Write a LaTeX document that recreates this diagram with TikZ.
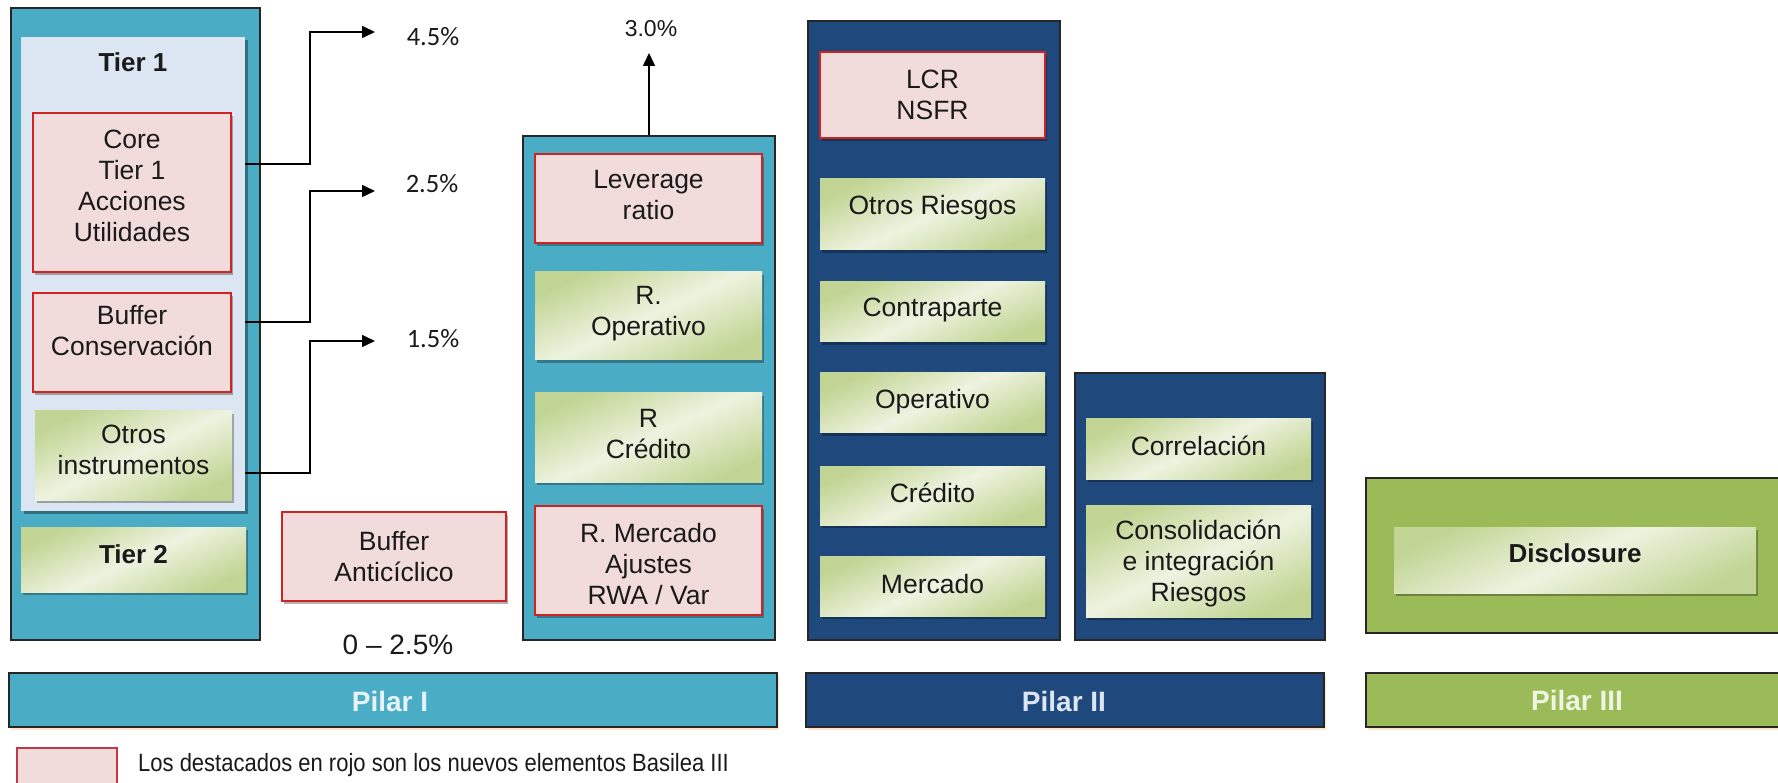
\documentclass[tikz,border=0pt]{standalone}
\usepackage{fontspec}
\setmainfont{Liberation Sans}
\newfontfamily\calib{Carlito}
\newfontfamily\narrowfont{Liberation Sans}[FakeStretch=0.88]
\usetikzlibrary{shadows,arrows.meta,calc}
\definecolor{tealA}{HTML}{4BACC6}
\definecolor{navyB}{HTML}{1F497D}
\definecolor{oliveC}{HTML}{9BBB59}
\definecolor{tierfill}{HTML}{DCE6F2}
\definecolor{redfill}{HTML}{F2DCDB}
\definecolor{redline}{HTML}{D02424}
\definecolor{legline}{HTML}{C0394B}
\definecolor{gEdge}{HTML}{C2D594}
\definecolor{gMid}{HTML}{EEF3E0}
\definecolor{txt}{HTML}{1A1A1A}
\definecolor{pilIt}{HTML}{E6F4FA}
\definecolor{pilIIt}{HTML}{DCE6F2}
\definecolor{pilIIIt}{HTML}{EEF5E0}
\begin{document}
\begin{tikzpicture}[x=1pt,y=-1pt,
  every node/.style={font=\fontsize{26.5}{31}\selectfont, text=txt, inner sep=0pt, align=center},
  column/.style={draw=black!85, line width=1.5pt, rectangle},
  tierbox/.style={fill=tierfill, drop shadow={shadow xshift=3pt, shadow yshift=-3pt, fill=black, opacity=0.35}},
  redbox/.style={fill=redfill, draw=redline, line width=2pt, drop shadow={shadow xshift=2pt, shadow yshift=-3pt, fill=black, opacity=0.3}},
  greenbox/.style={top color=gEdge, bottom color=gEdge, middle color=gMid, shading angle=25, drop shadow={shadow xshift=2pt, shadow yshift=-3pt, fill=black, opacity=0.3}},
  bar/.style={draw=black!85, line width=1.5pt, drop shadow={shadow xshift=2pt, shadow yshift=-3pt, fill=orange!40, opacity=0.5}},
  barlabel/.style={font=\fontsize{28}{32}\selectfont\bfseries},
  pct/.style={font=\fontsize{26.5}{30}\selectfont\calib},
  arr/.style={line width=1.6pt, -{Triangle[length=13pt,width=12pt]}},
]
\useasboundingbox[fill=white] (0,0) rectangle (1778,783);

% ---------- Pilar I: capital column ----------
\node[column, fill=tealA, minimum width=249, minimum height=632] (colL) at (135.5,324) {};
\node[tierbox, minimum width=224, minimum height=474] (tier1) at (133,274) {};
\node[font=\fontsize{26}{30}\selectfont\bfseries] (t1lab) at (133,62) {Tier 1};
\node[redbox, minimum width=198, minimum height=159] (core) at (132,192.5) {};
\node (coretxt) at (132,186) {Core\\Tier 1\\Acciones\\Utilidades};
\node[redbox, minimum width=198, minimum height=99] (bufcons) at (132,342.5) {};
\node (bufconstxt) at (132,331) {Buffer\\Conservación};
\node[greenbox, minimum width=197, minimum height=89] (otros) at (133.5,455.5) {};
\node (otrostxt) at (133.5,450) {Otros\\instrumentos};
\node[greenbox, minimum width=225, minimum height=65] (tier2) at (133.5,559.5) {};
\node[font=\fontsize{26}{30}\selectfont\bfseries] (tier2txt) at (133.5,554) {Tier 2};

% percentages and arrows
\node[pct] (p45) at (433,37) {4.5\%};
\node[pct] (p25) at (432,184) {2.5\%};
\node[pct] (p15) at (433,339) {1.5\%};
\coordinate (t45) at (375,32);
\coordinate (t25) at (375,191);
\coordinate (t15) at (375,341);
\draw[arr] (tier1.east |- core.north) ++(0,52) -- ++(65,0) |- (t45);
\draw[arr] (tier1.east |- bufcons.north) ++(0,30) -- ++(65,0) |- (t25);
\draw[arr] (tier1.east |- otros.north) ++(0,62) -- ++(65,0) |- (t15);

% buffer anticiclico
\node[redbox, minimum width=224, minimum height=89] (bufanti) at (394,556.5) {Buffer\\Anticíclico};
\node[font=\fontsize{28}{32}\selectfont] (range) at (398,645) {0 -- 2.5\%};

% ---------- Pilar I: risk column ----------
\node[column, fill=tealA, minimum width=252, minimum height=504] (levcol) at (649,388) {};
\node[redbox, minimum width=227, minimum height=89] (lev) at (648.5,198.5) {};
\node (levtxt) at (648.5,195) {Leverage\\ratio};
\node[greenbox, minimum width=227, minimum height=88] (rop) at (648.5,316) {};
\node (roptxt) at (648.5,314) {R.\\Operativo};
\node[greenbox, minimum width=227, minimum height=89] (rcred) at (648.5,437.5) {};
\node (rcredtxt) at (648.5,434) {R\\Crédito};
\node[redbox, minimum width=227, minimum height=109] (rmerc) at (648.5,560.5) {};
\node (rmerctxt) at (648.5,564.5) {R. Mercado\\Ajustes\\RWA / Var};
\node[font=\fontsize{23}{26}\selectfont] (p30) at (651,29) {3.0\%};
\coordinate (t30) at (649,53);
\draw[arr] (levcol.north) -- (t30);

% ---------- Pilar II ----------
\node[column, fill=navyB, minimum width=252, minimum height=619] (p2a) at (934,330.5) {};
\node[redbox, minimum width=225, minimum height=86] (lcr) at (932.5,95) {LCR\\NSFR};
\node[greenbox, minimum width=225, minimum height=71] (otrosr) at (932.5,214.5) {};
\node (otrosrtxt) at (932.5,208) {Otros Riesgos};
\node[greenbox, minimum width=225, minimum height=60] (contra) at (932.5,312) {};
\node (contratxt) at (932.5,310) {Contraparte};
\node[greenbox, minimum width=225, minimum height=60] (oper) at (932.5,403) {};
\node (opertxt) at (932.5,402) {Operativo};
\node[greenbox, minimum width=225, minimum height=59] (cred) at (932.5,495.5) {};
\node (credtxt) at (932.5,493) {Crédito};
\node[greenbox, minimum width=225, minimum height=60] (merc) at (932.5,586) {};
\node (merctxt) at (932.5,584) {Mercado};

\node[column, fill=navyB, minimum width=250, minimum height=267] (p2b) at (1200,506.5) {};
\node[greenbox, minimum width=225, minimum height=60] (correl) at (1198.5,449) {};
\node (correltxt) at (1198.5,446) {Correlación};
\node[greenbox, minimum width=225, minimum height=112] (consol) at (1198.5,561) {};
\node (consoltxt) at (1198.5,563.5) {Consolidación\\e integración\\Riesgos};

% ---------- Pilar III ----------
\node[column, fill=oliveC, minimum width=424, minimum height=155] (p3) at (1578,555.5) {};
\node[greenbox, minimum width=362, minimum height=66] (discl) at (1575,560) {};
\node[font=\fontsize{26}{30}\selectfont\bfseries] (discltxt) at (1575,553) {Disclosure};

% ---------- bars ----------
\node[bar, fill=tealA, minimum width=768, minimum height=54] (barI) at (393,700) {};
\node[barlabel, text=pilIt] (barItxt) at (390,701) {Pilar I};
\node[bar, fill=navyB, minimum width=518, minimum height=54] (barII) at (1065,700) {};
\node[barlabel, text=pilIIt] (barIItxt) at (1064,701) {Pilar II};
\node[bar, fill=oliveC, minimum width=424, minimum height=54] (barIII) at (1578,700) {};
\node[barlabel, text=pilIIIt] (barIIItxt) at (1577,700) {Pilar III};

% ---------- legend ----------
\node[fill=redfill, draw=legline, line width=2pt, minimum width=100, minimum height=42] (legbox) at (67,769) {};
\node[anchor=west, font=\fontsize{25}{28}\selectfont\narrowfont] (legtxt) at (138,765) {Los destacados en rojo son los nuevos elementos Basilea III};
\end{tikzpicture}
\end{document}
